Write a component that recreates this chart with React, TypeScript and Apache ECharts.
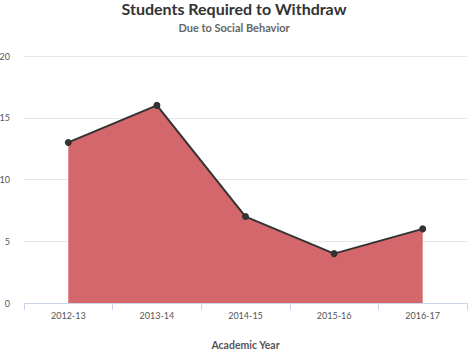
import React, { useEffect, useRef } from "react";
import * as echarts from "echarts";

const categories = ["2012-13", "2013-14", "2014-15", "2015-16", "2016-17"];
const values = [13, 16, 7, 4, 6];
const titleText = "Students Required to Withdraw";
const subtitleText = "Due to Social Behavior";
const xAxisName = "Academic Year";

export default function App() {
  const ref = useRef<HTMLDivElement>(null);
  useEffect(() => {
    const chart = echarts.init(ref.current!, null, { renderer: "svg" });
    chart.setOption({
      animation: false,
      textStyle: { fontFamily: "Lato" },
      title: [
        {
          text: titleText,
          left: 229,
          textAlign: "center",
          top: -5,
          textStyle: { fontSize: 16, fontWeight: "bold", color: "#333", fontFamily: "Lato" },
        },
        {
          text: subtitleText,
          left: 229,
          textAlign: "center",
          top: 17,
          textStyle: { fontSize: 11, fontWeight: "bold", color: "#666", fontFamily: "Lato" },
        },
      ],
      grid: { left: 24, right: 2, top: 56, bottom: 51, outerBoundsMode: "none", containLabel: false },
      xAxis: {
        type: "category",
        data: categories,
        boundaryGap: true,
        name: xAxisName,
        nameLocation: "middle",
        nameGap: 36,
        nameTextStyle: { fontSize: 10.5, fontWeight: "bold", color: "#555" },
        axisLine: { lineStyle: { color: "#ccd6eb" } },
        axisTick: { show: true, alignWithLabel: false, length: 7, lineStyle: { color: "#ccd6eb" } },
        axisLabel: { fontSize: 9, color: "#555", margin: 8 },
      },
      yAxis: {
        type: "value",
        min: 0,
        max: 20,
        interval: 5,
        axisLine: { show: false },
        axisTick: { show: false },
        axisLabel: { fontSize: 9, color: "#555", margin: 14 },
        splitLine: { lineStyle: { color: "#e6e6e6" } },
      },
      series: [
        {
          type: "line",
          data: values,
          symbol: "circle",
          symbolSize: 7,
          itemStyle: { color: "#333" },
          lineStyle: { color: "#333", width: 2 },
          areaStyle: { color: "#d4676b", opacity: 1 },
        },
      ],
    });
    return () => chart.dispose();
  }, []);
  return <div ref={ref} style={{ width: 469, height: 354, position: "absolute", left: 0, top: 0 }} />;
}
